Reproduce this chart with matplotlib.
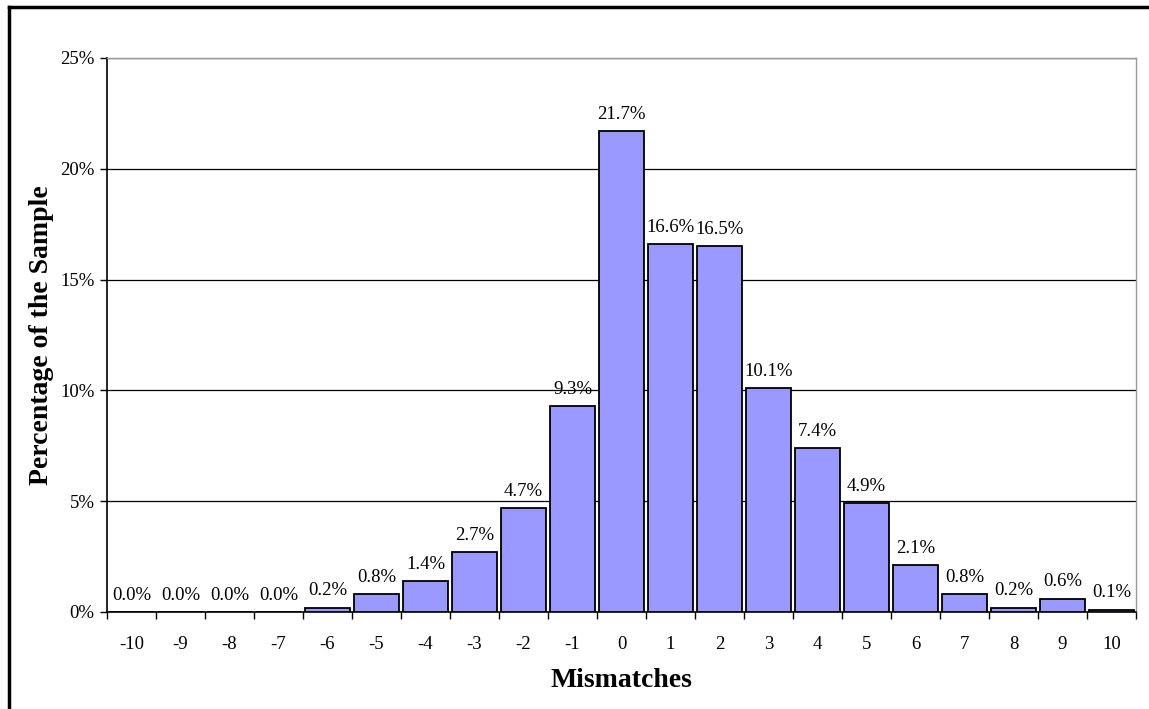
import matplotlib.pyplot as plt
from matplotlib.ticker import FuncFormatter
from matplotlib.lines import Line2D

mismatches = [-10, -9, -8, -7, -6, -5, -4, -3, -2, -1, 0, 1, 2, 3, 4, 5, 6, 7, 8, 9, 10]
percent = [0.0, 0.0, 0.0, 0.0, 0.2, 0.8, 1.4, 2.7, 4.7, 9.3, 21.7, 16.6, 16.5,
           10.1, 7.4, 4.9, 2.1, 0.8, 0.2, 0.6, 0.1]
y_ticks = [0, 5, 10, 15, 20, 25]

plt.rcParams['font.family'] = ['Liberation Serif', 'DejaVu Serif']

W, H = 1149, 709
fig = plt.figure(figsize=(W / 100, H / 100), dpi=100)
ax = fig.add_axes([107 / W, 1 - 612 / H, (1136 - 107) / W, (612 - 58) / H])

# chart area frame (left and top edges fall inside the canvas)
fx, fy = 9 / W, 1 - 6.5 / H
fig.lines.append(Line2D([fx, fx], [0, fy], transform=fig.transFigure,
                        color='black', linewidth=2.5))
fig.lines.append(Line2D([fx, 1], [fy, fy], transform=fig.transFigure,
                        color='black', linewidth=2.5))

pos = list(range(len(mismatches)))
ax.bar(pos, percent, width=0.92, color='#9999FF', edgecolor='black',
       linewidth=1.3, zorder=3)

for x, v in zip(pos, percent):
    ax.annotate(f'{v:.1f}%', (x, v), xytext=(0, 6), textcoords='offset points',
                ha='center', va='bottom', fontsize=13.5)

ax.set_xlim(-0.5, len(mismatches) - 0.5)
ax.set_ylim(0, 25)
ax.set_yticks(y_ticks)
ax.yaxis.set_major_formatter(FuncFormatter(lambda v, _: f'{v:.0f}%'))
ax.yaxis.grid(True, color='black', linewidth=0.9, zorder=0)
ax.set_axisbelow(True)

ax.set_xticks(pos)
ax.set_xticklabels([str(m) for m in mismatches])
ax.set_xticks([p - 0.5 for p in pos] + [len(pos) - 0.5], minor=True)
ax.tick_params(axis='x', which='major', length=0, pad=17, labelsize=13.5)
ax.tick_params(axis='x', which='minor', length=5, width=1, direction='out')
ax.tick_params(axis='y', length=5, width=1, direction='out', labelsize=13.5, pad=4)

for side in ['left', 'bottom']:
    ax.spines[side].set_color('black')
    ax.spines[side].set_linewidth(1.2)
for side in ['top', 'right']:
    ax.spines[side].set_color('#999999')
    ax.spines[side].set_linewidth(1.0)

ax.set_xlabel('Mismatches', fontsize=20, fontweight='bold')
ax.set_ylabel('Percentage of the Sample', fontsize=20, fontweight='bold')
ax.xaxis.set_label_coords(0.5, (612 - 668) / 554)
ax.yaxis.set_label_coords((54 - 107) / 1029, 0.5)

fig.savefig('out.png', dpi=100)
